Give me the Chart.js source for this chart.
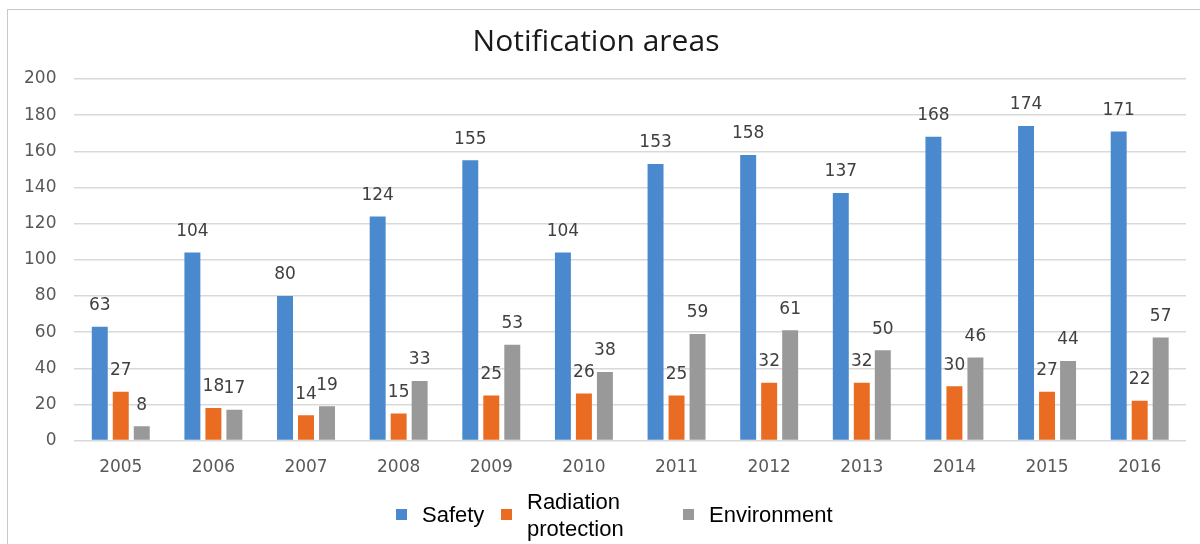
<!DOCTYPE html>
<html lang="en">
<head>
    <meta charset="UTF-8">
    <title>Notification areas</title>
    <script src="https://cdn.jsdelivr.net/npm/chart.js"></script>
    <style>
        html, body { margin: 0; padding: 0; background: #fff; }
        #wrap { width: 1200px; height: 544px; }
    </style>
</head>
<body>
    <div id="wrap"><canvas id="myChart" width="1200" height="544"></canvas></div>
    <script>
        // Datos
        const years = ['2005', '2006', '2007', '2008', '2009', '2010', '2011', '2012', '2013', '2014', '2015', '2016'];
        const safety = [63, 104, 80, 124, 155, 104, 153, 158, 137, 168, 174, 171];
        const radiation = [27, 18, 14, 15, 25, 26, 25, 32, 32, 30, 27, 22];
        const environment = [8, 17, 19, 33, 53, 38, 59, 61, 50, 46, 44, 57];
        const seriesNames = ['Safety', ['Radiation', 'protection'], 'Environment'];
        const yTicks = [0, 20, 40, 60, 80, 100, 120, 140, 160, 180, 200];

        const colors = ['#4a89cd', '#ea6b22', '#999999'];

        // marco gris alrededor del grafico
        const framePlugin = {
            id: 'frame',
            beforeDraw(chart) {
                const ctx = chart.ctx;
                ctx.save();
                ctx.fillStyle = '#fff';
                ctx.fillRect(0, 0, chart.width, chart.height);
                ctx.strokeStyle = '#c8c8c8';
                ctx.lineWidth = 1;
                ctx.strokeRect(7.5, 9.5, chart.width + 10, chart.height + 10);
                ctx.restore();
            }
        };

        // etiquetas de valor encima de cada barra
        const labelPlugin = {
            id: 'valueLabels',
            afterDatasetsDraw(chart) {
                const ctx = chart.ctx;
                ctx.save();
                ctx.font = '17px "DejaVu Sans"';
                ctx.fillStyle = '#404040';
                ctx.textAlign = 'center';
                ctx.textBaseline = 'middle';
                chart.data.datasets.forEach((ds, i) => {
                    chart.getDatasetMeta(i).data.forEach((bar, j) => {
                        ctx.fillText(ds.data[j], bar.x, bar.y - 21);
                    });
                });
                ctx.restore();
            }
        };

        // leyenda propia (para el texto en dos lineas)
        const legendPlugin = {
            id: 'customLegend',
            afterDraw(chart) {
                const ctx = chart.ctx;
                const xs = [396, 501, 683];
                const cy = 515;
                ctx.save();
                ctx.font = '22px "Liberation Sans"';
                ctx.textBaseline = 'middle';
                ctx.textAlign = 'left';
                chart.data.datasets.forEach((ds, i) => {
                    ctx.fillStyle = ds.backgroundColor;
                    ctx.fillRect(xs[i], cy - 6, 11, 11);
                    ctx.fillStyle = '#000';
                    const lines = Array.isArray(ds.label) ? ds.label : [ds.label];
                    const lh = 27;
                    lines.forEach((t, k) => {
                        const y = cy + 1 + (k - (lines.length - 1) / 2) * lh;
                        ctx.fillText(t, xs[i] + 26, y);
                    });
                });
                ctx.restore();
            }
        };

        const ctx = document.getElementById('myChart').getContext('2d');
        new Chart(ctx, {
            type: 'bar',
            data: {
                labels: years,
                datasets: [
                    { label: seriesNames[0], data: safety, backgroundColor: colors[0] },
                    { label: seriesNames[1], data: radiation, backgroundColor: colors[1] },
                    { label: seriesNames[2], data: environment, backgroundColor: colors[2] }
                ]
            },
            options: {
                responsive: false,
                animation: false,
                layout: { padding: { left: 6, right: 14, top: 0, bottom: 57 } },
                datasets: {
                    bar: { categoryPercentage: 0.68, barPercentage: 0.76 }
                },
                plugins: {
                    legend: { display: false },
                    tooltip: { enabled: false },
                    title: {
                        display: true,
                        text: 'Notification areas',
                        color: '#1a1a1a',
                        font: { family: '"Open Sans"', size: 30, weight: 'normal' },
                        padding: { top: 24, bottom: 19 }
                    }
                },
                scales: {
                    x: {
                        grid: { display: false },
                        border: { display: false },
                        ticks: { color: '#595959', font: { family: '"DejaVu Sans"', size: 17 }, padding: 9 }
                    },
                    y: {
                        min: 0,
                        max: 200,
                        afterBuildTicks(axis) { axis.ticks = yTicks.map(v => ({ value: v })); },
                        grid: { color: '#d9d9d9', drawTicks: false, lineWidth: 1.5 },
                        border: { display: false },
                        ticks: { color: '#595959', font: { family: '"DejaVu Sans"', size: 17 }, padding: 18 }
                    }
                }
            },
            plugins: [framePlugin, labelPlugin, legendPlugin]
        });
    </script>
</body>
</html>
